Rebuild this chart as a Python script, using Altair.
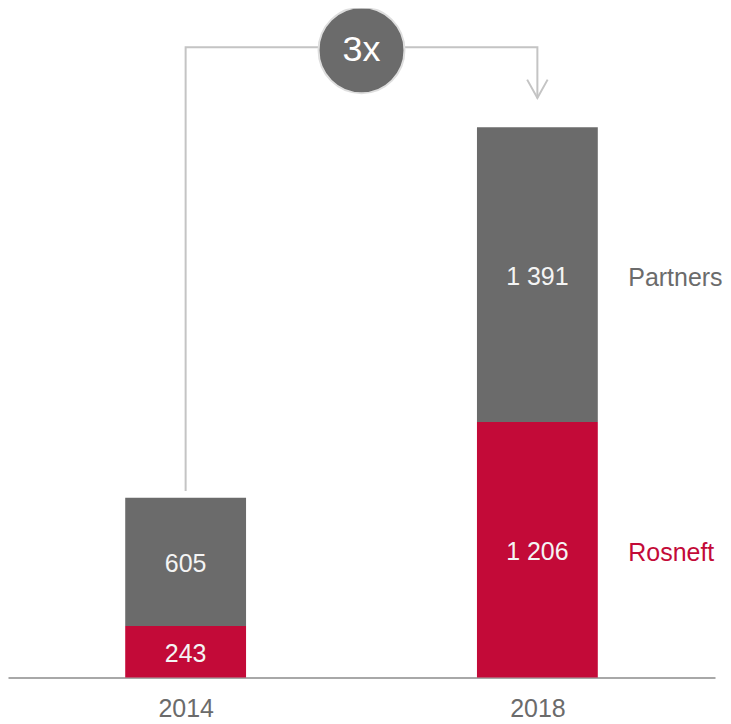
import altair as alt
import pandas as pd

# ---- data ----
years = [2014, 2018]
rosneft = [243, 1206]
partners = [605, 1391]
series_names = ["Rosneft", "Partners"]
growth_label = "3x"

# annotation anchors (data units)
bracket_x = [2014, 2014, 2018, 2018]
bracket_y = [880, 2974, 2974, 2733]
circle_x = [2016]
circle_y = [2960]
arrow_x = [2018]
arrow_y = [2778]

RED = "#c30a38"
GREY = "#6b6b6b"
LINE = "#c4c4c4"
FONT = "Liberation Sans"

rows = []
for i, yr in enumerate(years):
    r, p = rosneft[i], partners[i]
    rows.append({"year": yr, "series": "Rosneft", "start": 0, "end": r, "val": r})
    rows.append({"year": yr, "series": "Partners", "start": r, "end": r + p, "val": p})
bars = pd.DataFrame(rows)
bars["mid"] = (bars["start"] + bars["end"]) / 2
bars["label"] = bars["val"].map(lambda v: f"{v:,}".replace(",", " "))

side = bars[bars["year"] == years[-1]].copy()

bracket = pd.DataFrame({"x": bracket_x, "y": bracket_y, "o": range(len(bracket_x))})
circle = pd.DataFrame({"x": circle_x, "y": circle_y, "t": [growth_label]})
arrow = pd.DataFrame({"x": arrow_x, "y": arrow_y})

xscale = alt.Scale(domain=[2011.98, 2020.02], nice=False, zero=False, padding=0)
yscale = alt.Scale(domain=[0, 3157], nice=False, zero=False, padding=0)

X = lambda f: alt.X(
    f, type="quantitative", scale=xscale,
    axis=alt.Axis(values=years, format="d", title=None, ticks=False, grid=False,
                  labelFontSize=25, labelColor=GREY, labelFont=FONT, labelPadding=19,
                  domainColor="#a8a8a8", domainWidth=2),
)
Y = lambda f: alt.Y(f, type="quantitative", scale=yscale, axis=None)

color = alt.Color("series:N", scale=alt.Scale(domain=series_names, range=[RED, GREY]), legend=None)

bar_layer = alt.Chart(bars).mark_bar(size=121, orient="vertical").encode(
    x=X("year"), y=Y("start"), y2="end", color=color
)
bar_text = alt.Chart(bars).mark_text(fontSize=25, font=FONT, color="#f4f4f4", baseline="middle", dy=2).encode(
    x=X("year"), y=Y("mid"), text="label:N"
)
side_text = alt.Chart(side).mark_text(fontSize=25, font=FONT, align="left", baseline="middle", dx=91, dy=3).encode(
    x=X("year"), y=Y("mid"), text="series:N", color=color
)
bracket_layer = alt.Chart(bracket).mark_line(color=LINE, strokeWidth=2).encode(
    x=X("x"), y=Y("y"), order="o:Q"
)
arrow_layer = alt.Chart(arrow).mark_point(
    shape="M-1,-0.9L0,0.9L1,-0.9", size=420, filled=False, color=LINE, strokeWidth=2, opacity=1
).encode(x=X("x"), y=Y("y"))
circle_layer = alt.Chart(circle).mark_point(
    shape="circle", size=7400, filled=True, fill=GREY, stroke="#dedede", strokeWidth=2, opacity=1,
    clip=True,
).encode(x=X("x"), y=Y("y"))
circle_text = alt.Chart(circle).mark_text(fontSize=36, font=FONT, color="#ffffff", baseline="middle").encode(
    x=X("x"), y=Y("y"), text="t:N"
)

chart = alt.layer(
    bracket_layer, arrow_layer, circle_layer, circle_text, bar_layer, bar_text, side_text
).properties(width=708, height=670, padding=0).configure_view(stroke=None)

chart.save("out.html", embed_options={"renderer": "svg", "actions": False})
